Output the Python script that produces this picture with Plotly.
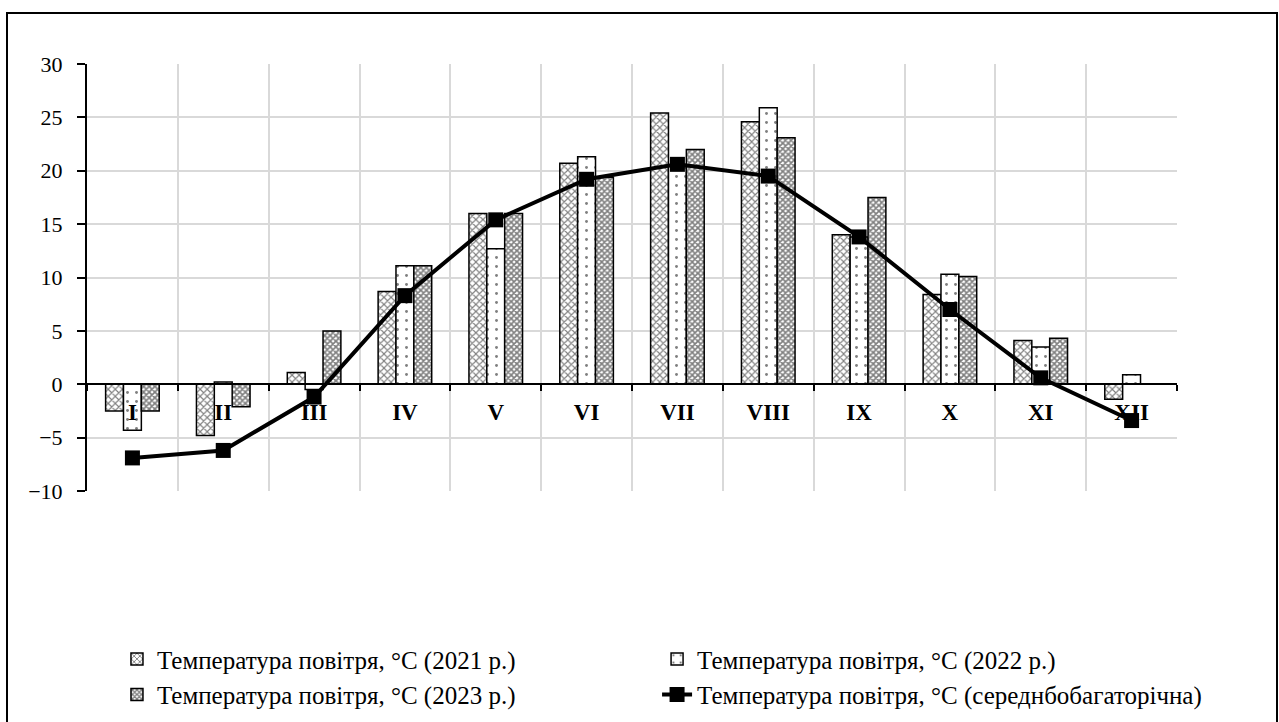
import plotly.graph_objects as go

months = ["I", "II", "III", "IV", "V", "VI", "VII", "VIII", "IX", "X", "XI", "XII"]
t2021 = [-2.5, -4.8, 1.1, 8.7, 16.0, 20.7, 25.4, 24.6, 14.0, 8.4, 4.1, -1.4]
t2022 = [-4.3, 0.2, -0.5, 11.1, 12.7, 21.3, 20.5, 25.9, 13.8, 10.3, 3.5, 0.9]
t2023 = [-2.5, -2.1, 5.0, 11.1, 16.0, 19.4, 22.0, 23.1, 17.5, 10.1, 4.3, None]
t_avg = [-6.9, -6.2, -1.2, 8.3, 15.4, 19.2, 20.6, 19.5, 13.8, 7.0, 0.6, -3.4]

names = [
    "Температура повітря, °С (2021 р.)",
    "Температура повітря, °С (2022 р.)",
    "Температура повітря, °С (2023 р.)",
    "Температура повітря, °С (середнбобагаторічна)",
]

FONT = "Liberation Serif, Times New Roman, serif"

fig = go.Figure()
fig.add_trace(go.Bar(
    x=months, y=t2021, name=names[0], legend="legend",
    marker=dict(color="white", line=dict(color="black", width=1.5),
                pattern=dict(shape="x", fgcolor="black", bgcolor="white", size=5, solidity=0.4)),
))
fig.add_trace(go.Bar(
    x=months, y=t2022, name=names[1], legend="legend2",
    marker=dict(color="white", line=dict(color="black", width=1.5),
                pattern=dict(shape=".", fgcolor="black", bgcolor="white", size=9, solidity=0.08)),
))
fig.add_trace(go.Bar(
    x=months, y=t2023, name=names[2], legend="legend",
    marker=dict(color="white", line=dict(color="black", width=1.5),
                pattern=dict(shape="x", fgcolor="black", bgcolor="white", size=4, solidity=0.65)),
))
fig.add_trace(go.Scatter(
    x=months, y=t_avg, name=names[3], mode="lines+markers", legend="legend2",
    line=dict(color="black", width=4),
    marker=dict(symbol="square", size=15, color="black"),
))

legend_common = dict(
    orientation="v", y=-0.34, xanchor="left", yanchor="top",
    itemwidth=30, font=dict(family=FONT, size=25, color="black"),
    traceorder="normal", bgcolor="rgba(0,0,0,0)",
)

fig.update_layout(
    width=1279, height=722,
    margin=dict(l=87, r=102, t=64, b=231, autoexpand=False),
    paper_bgcolor="white", plot_bgcolor="white",
    barmode="group", bargap=0.41, bargroupgap=0,
    font=dict(family=FONT, size=20, color="black"),
    showlegend=True,
    legend=dict(x=0.0275, **legend_common),
    legend2=dict(x=0.523, **legend_common),
    xaxis=dict(
        type="category", anchor="free", position=0.25, range=[-0.5, 11.5],
        showline=True, linecolor="black", linewidth=2,
        ticks="outside", ticklen=6, tickwidth=2, tickcolor="black",
        tickson="boundaries", ticklabelstandoff=7,
        showgrid=True, gridcolor="#d9d9d9", gridwidth=2,
        tickfont=dict(family=FONT, size=23, color="black", weight="bold"),
    ),
    yaxis=dict(
        range=[-10, 30], dtick=5, tick0=0,
        showline=True, linecolor="black", linewidth=2,
        ticks="outside", ticklen=8, tickwidth=2, tickcolor="black",
        ticklabelstandoff=10,
        showgrid=True, gridcolor="#d9d9d9", gridwidth=2,
        zeroline=False,
        tickfont=dict(family=FONT, size=22, color="black"),
    ),
)

fig.add_shape(type="rect", xref="paper", yref="paper",
              x0=(7 - 87) / 1090, x1=(1277 - 87) / 1090,
              y0=(491 - 730) / 427, y1=(491 - 13) / 427,
              line=dict(color="black", width=2), fillcolor="rgba(0,0,0,0)", layer="below")

fig.write_html("out.html")
